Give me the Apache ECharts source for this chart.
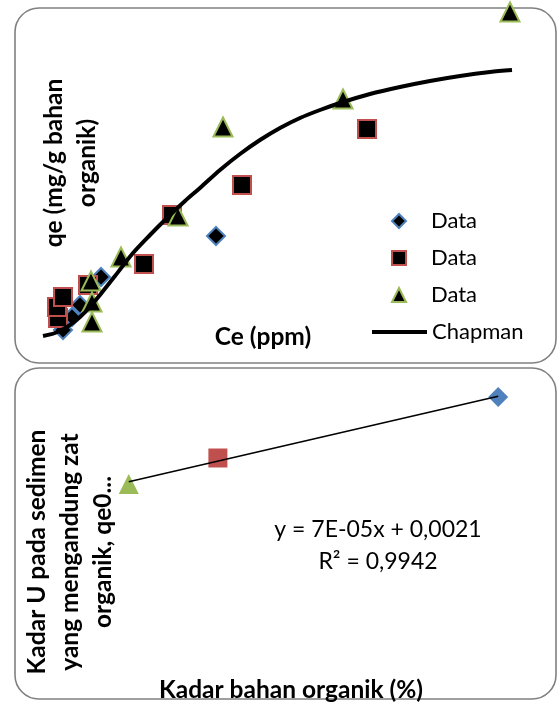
<!DOCTYPE html>
<html>
<head>
<meta charset="utf-8">
<script src="https://cdn.jsdelivr.net/npm/echarts@6/dist/echarts.min.js"></script>
<style>
html, body { margin: 0; background: #fff; }
#chart { width: 558px; height: 702px; }
</style>
</head>
<body>
<div id="chart"></div>
<script>
// isoterm: Ce (ppm) vs qe (mg/g bahan organik), three sediment samples
var ce1 = [2.3, 3.2, 4.0, 6.1, 17.6];
var qe1 = [0.04, 0.105, 0.165, 0.305, 0.51];
var ce2 = [1.8, 1.7, 2.3, 4.8, 10.4, 13.2, 20.2, 32.7];
var qe2 = [0.10, 0.155, 0.205, 0.265, 0.37, 0.615, 0.765, 1.045];
var ce3 = [5.2, 5.2, 5.1, 8.1, 13.8, 18.3, 30.3, 47.0];
var qe3 = [0.08, 0.18, 0.285, 0.405, 0.61, 1.055, 1.195, 1.63];

// Chapman fit
var chapmanCe = [0.3, 1.5, 2.7, 4.0, 5.0, 6.0, 7.5, 9.3, 11.0, 12.7, 14.5, 16.0, 18.0, 20.0,
    22.0, 24.0, 26.0, 28.0, 30.0, 33.0, 36.0, 39.0, 42.0, 45.0, 47.2];
var chapmanQe = [0.01, 0.025, 0.055, 0.105, 0.155, 0.215, 0.31, 0.425, 0.515, 0.60, 0.685, 0.75, 0.84, 0.92,
    0.99, 1.05, 1.10, 1.14, 1.175, 1.22, 1.255, 1.285, 1.31, 1.33, 1.34];

// kadar bahan organik (%) vs qe0
var organik = [39.9, 11.6, 2.6];
var qe0 = [0.00489, 0.00306, 0.00228];

var blue = '#4F81BD', red = '#C0504D', green = '#9BBB59';
var font = 'Lato';

function pairs(xs, ys) {
    var out = [];
    for (var i = 0; i < xs.length; i++) {
        out.push([xs[i], ys[i]]);
    }
    return out;
}

// least squares line over the three samples, like the excel trendline
function trend(xs, ys) {
    var n = xs.length, mx = 0, my = 0, sxx = 0, sxy = 0, i;
    for (i = 0; i < n; i++) { mx += xs[i] / n; my += ys[i] / n; }
    for (i = 0; i < n; i++) {
        sxx += (xs[i] - mx) * (xs[i] - mx);
        sxy += (xs[i] - mx) * (ys[i] - my);
    }
    var b = sxy / sxx, a = my - b * mx;
    var lo = Math.min.apply(null, xs), hi = Math.max.apply(null, xs);
    return [[lo, a + b * lo], [hi, a + b * hi]];
}

function hiddenAxis(gridIndex, min, max) {
    return { type: 'value', gridIndex: gridIndex, min: min, max: max, show: false };
}

function panel(y, h) {
    return {
        type: 'rect',
        shape: { x: 15, y: y, width: 541, height: h, r: 24 },
        style: { fill: 'none', stroke: '#808080', lineWidth: 1.6 },
        z: -1
    };
}

function title(text, x, y, rotated) {
    return {
        type: 'text',
        x: x,
        y: y,
        rotation: rotated ? Math.PI / 2 : 0,
        style: {
            text: text,
            fontFamily: font,
            fontWeight: 'bold',
            fontSize: 24.5,
            lineHeight: 33,
            fill: '#000',
            textAlign: 'center',
            textVerticalAlign: 'middle'
        }
    };
}

function marker(name, symbol, size, border, xs, ys) {
    return {
        name: name, type: 'scatter', symbol: symbol, symbolSize: size,
        itemStyle: { color: '#000', borderColor: border, borderWidth: 2, opacity: 1 },
        data: pairs(xs, ys)
    };
}

function point(symbol, size, color, x, y) {
    return {
        type: 'scatter', xAxisIndex: 1, yAxisIndex: 1, symbol: symbol, symbolSize: size,
        itemStyle: { color: color, opacity: 1 },
        data: [[x, y]]
    };
}

var legendText = { fontFamily: font, fontSize: 22, color: '#000', lineHeight: 24 };

var option = {
    backgroundColor: '#fff',
    animation: false,
    grid: [
        { left: 40, top: 8, width: 480, height: 330 },
        { left: 103, top: 380, width: 416, height: 120 }
    ],
    xAxis: [hiddenAxis(0, 0, 48), hiddenAxis(1, 0, 42)],
    yAxis: [hiddenAxis(0, 0, 1.65), hiddenAxis(1, 0.0018, 0.0054)],
    legend: [
        {
            left: 391,
            top: 209,
            padding: 0,
            orient: 'vertical',
            itemWidth: 14,
            itemHeight: 14,
            itemGap: 13,
            data: ['Data 1', 'Data 2', 'Data 3'],
            formatter: function() {
                return 'Data';
            },
            textStyle: echarts.util.extend({ padding: [0, 0, 0, 20] }, legendText)
        },
        {
            left: 370,
            top: 320,
            padding: 0,
            itemWidth: 55,
            itemHeight: 14,
            data: [{
                name: 'Chapman',
                itemStyle: { color: 'rgba(0,0,0,0)', borderWidth: 0, opacity: 0 },
                lineStyle: { color: '#000', width: 4 }
            }],
            textStyle: legendText
        }
    ],
    graphic: [
        panel(8, 355),
        panel(368, 331),
        title('qe (mg/g bahan\norganik)', 71, 163, true),
        title('Ce (ppm)', 263, 337, false),
        title('Kadar U pada sedimen\nyang mengandung zat\norganik, qe0...', 70, 552, true),
        title('Kadar bahan organik (%)', 291, 690, false),
        {
            type: 'text',
            x: 378,
            y: 546,
            style: {
                text: 'y = 7E-05x + 0,0021\nR² = 0,9942',
                fontFamily: font,
                fontSize: 23,
                lineHeight: 32,
                fill: '#000',
                textAlign: 'center',
                textVerticalAlign: 'middle'
            }
        }
    ],
    series: [
        marker('Data 1', 'diamond', 18, blue, ce1, qe1),
        marker('Data 2', 'rect', 18, red, ce2, qe2),
        marker('Data 3', 'triangle', 19, green, ce3, qe3),
        {
            name: 'Chapman', type: 'line', smooth: 0.3, symbol: 'none', z: 5,
            lineStyle: { color: '#000', width: 4 },
            itemStyle: { color: '#000' },
            data: pairs(chapmanCe, chapmanQe)
        },
        point('diamond', 20, blue, organik[0], qe0[0]),
        point('rect', 19, red, organik[1], qe0[1]),
        point('triangle', 20, green, organik[2], qe0[2]),
        {
            type: 'line', xAxisIndex: 1, yAxisIndex: 1, symbol: 'none', z: 5,
            lineStyle: { color: '#000', width: 1.5 },
            data: trend(organik, qe0)
        }
    ]
};

var chart = echarts.init(document.getElementById('chart'));
chart.setOption(option);
</script>
</body>
</html>
